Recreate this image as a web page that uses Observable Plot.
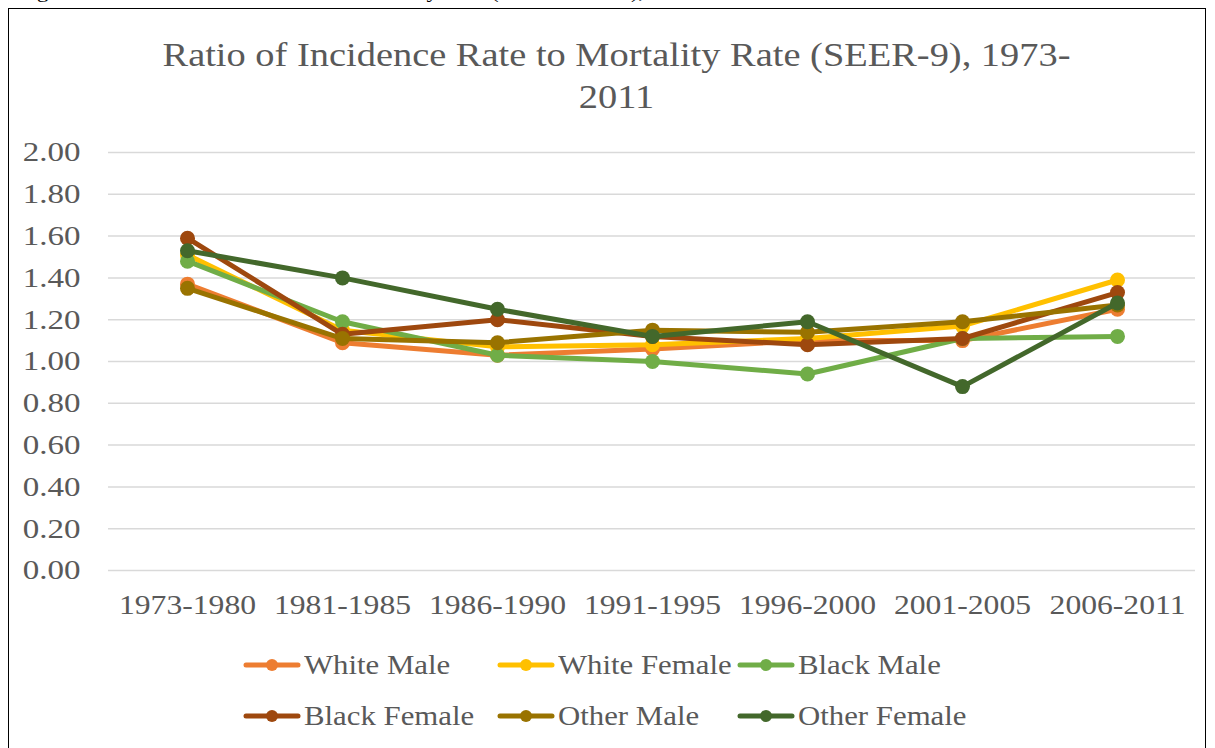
<!DOCTYPE html>
<html>
<head>
<meta charset="utf-8">
<script src="https://cdn.jsdelivr.net/npm/d3@7"></script>
<script src="https://cdn.jsdelivr.net/npm/@observablehq/plot@0.6"></script>
<style>
  html, body { margin: 0; padding: 0; background: #fff; }
  body { width: 1215px; height: 748px; position: relative; overflow: hidden; font-family: "Liberation Serif", "Times New Roman", serif; }
  #caption { position: absolute; left: 18px; top: -19px; font-size: 19px; line-height: 22px; color: #000; white-space: nowrap; transform-origin: left center; transform: scaleX(1.2); }
  #frame { position: absolute; left: 8px; top: 8px; width: 1198px; height: 760px; border: 1.5px solid #000; box-sizing: border-box; }
  #title { position: absolute; left: 9px; width: 1215px; top: 34px; text-align: center; font-size: 34px; line-height: 42px; color: #595959; transform-origin: center; transform: scaleX(1.13); }
  #chart { position: absolute; left: 0; top: 120px; }
  #chart svg text { font-family: "Liberation Serif", "Times New Roman", serif; }
  #legend { position: absolute; left: 0; top: 646px; width: 1215px; color: #595959; font-size: 28px; }
  .item { position: absolute; display: flex; align-items: center; white-space: nowrap; }
  .item svg { margin-right: 3px; }
  .item span { display: inline-block; transform-origin: left center; transform: scaleX(1.1); }
</style>
</head>
<body>
<div id="caption">Figure 6: Ratio of Incidence Rate to Mortality Rate (SEER-9 Areas), 1973-2011</div>
<div id="frame"></div>
<div id="title">Ratio of Incidence Rate to Mortality Rate (SEER-9), 1973-<br>2011</div>
<div id="chart"></div>
<div id="legend"></div>
<script>
const periods = ["1973-1980", "1981-1985", "1986-1990", "1991-1995", "1996-2000", "2001-2005", "2006-2011"];
const seriesNames = ["White Male", "White Female", "Black Male", "Black Female", "Other Male", "Other Female"];
const seriesColors = ["#ED7D31", "#FFC000", "#70AD47", "#9E480E", "#997300", "#43682B"];
const whiteMale   = [1.37, 1.09, 1.03, 1.06, 1.10, 1.10, 1.25];
const whiteFemale = [1.51, 1.15, 1.07, 1.08, 1.11, 1.17, 1.39];
const blackMale   = [1.48, 1.19, 1.03, 1.00, 0.94, 1.11, 1.12];
const blackFemale = [1.59, 1.13, 1.20, 1.12, 1.08, 1.11, 1.33];
const otherMale   = [1.35, 1.11, 1.09, 1.15, 1.14, 1.19, 1.27];
const otherFemale = [1.53, 1.40, 1.25, 1.12, 1.19, 0.88, 1.28];
const yTicks = [0, 0.2, 0.4, 0.6, 0.8, 1.0, 1.2, 1.4, 1.6, 1.8, 2.0];

const seriesValues = [whiteMale, whiteFemale, blackMale, blackFemale, otherMale, otherFemale];
const data = [];
seriesNames.forEach((name, i) => {
  periods.forEach((p, j) => data.push({series: name, period: p, value: seriesValues[i][j]}));
});

const marks = [Plot.gridY(yTicks, {stroke: "#d9d9d9", strokeOpacity: 1, strokeWidth: 1.5})];
seriesNames.forEach((name, i) => {
  const d = data.filter(r => r.series === name);
  marks.push(Plot.line(d, {x: "period", y: "value", stroke: seriesColors[i], strokeWidth: 5, strokeLinejoin: "round", strokeLinecap: "round"}));
  marks.push(Plot.dot(d, {x: "period", y: "value", fill: seriesColors[i], r: 7.5}));
});
marks.push(Plot.axisY(yTicks, {tickSize: 0, tickPadding: 28, tickFormat: d3.format(".2f"), fontSize: 28, fill: "#595959", label: null}));
marks.push(Plot.axisX({tickSize: 0, tickPadding: 24, fontSize: 28, fill: "#595959", label: null}));

const chart = Plot.plot({
  width: 1215,
  height: 520,
  marginTop: 32,
  marginBottom: 70,
  marginLeft: 108,
  marginRight: 20,
  style: {fontFamily: "Liberation Serif, Times New Roman, serif", background: "transparent", color: "#595959"},
  x: {type: "point", domain: periods, padding: 0.5},
  y: {domain: [0, 2]},
  marks
});
document.getElementById("chart").appendChild(chart);

// widen the axis labels horizontally, as in the reference rendering
chart.querySelectorAll("text").forEach(t => {
  const s = t.textContent.trim();
  const factor = periods.includes(s) ? 1.13 : 1.18;
  const len = t.getComputedTextLength();
  if (len > 0) {
    t.setAttribute("textLength", (len * factor).toFixed(1));
    t.setAttribute("lengthAdjust", "spacingAndGlyphs");
  }
});

const legendPos = [[243, 21], [497, 21], [737, 21], [243, 72], [497, 72], [737, 72]];
const legend = document.getElementById("legend");
seriesNames.forEach((name, i) => {
  const item = document.createElement("div");
  item.className = "item";
  item.style.left = legendPos[i][0] + "px";
  item.style.top = (legendPos[i][1] - 18) + "px";
  item.innerHTML = `<svg width="58" height="20"><line x1="3" y1="10" x2="55" y2="10" stroke="${seriesColors[i]}" stroke-width="5" stroke-linecap="round"/><circle cx="29" cy="10" r="6" fill="${seriesColors[i]}"/></svg><span>${name}</span>`;
  legend.appendChild(item);
});
</script>
</body>
</html>
